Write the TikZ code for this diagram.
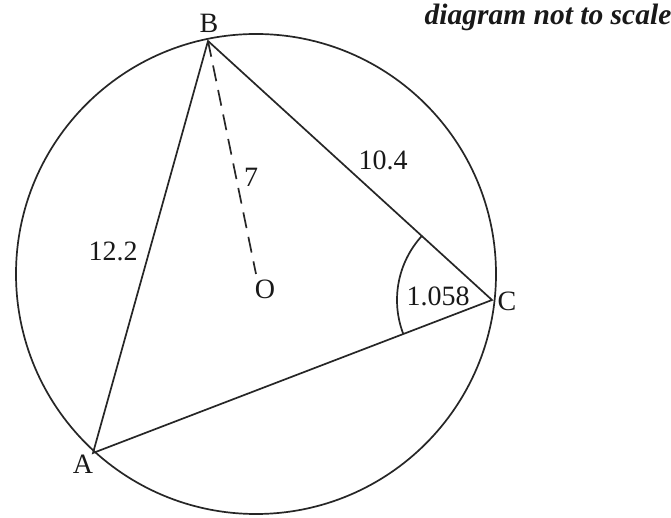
\documentclass[tikz,border=0pt]{standalone}
\usepackage{fontspec}
\setmainfont{Liberation Serif}
\usetikzlibrary{angles,calc}
\begin{document}
\begin{tikzpicture}[x=1pt,y=1pt,
  edge/.style={line width=1.7pt,black!85},
  lbl/.style={inner sep=0pt,font=\fontsize{28}{33}\selectfont,text=black!90}]
\useasboundingbox (0,0) rectangle (671,518);
\fill[white] (0,0) rectangle (671,518);
\coordinate (O) at (256,244);
\coordinate (B) at (208,477);
\coordinate (C) at (492,218);
\coordinate (A) at (93,65);
\draw[edge] (O) circle (240);
\draw[edge] (A) -- (B) -- (C) -- cycle;
\draw[edge,dash pattern=on 16pt off 9pt] (B) -- (O);
\pic[draw,edge,angle radius=95pt] {angle = B--C--A};
\node[lbl] (lB) at (209,495) {B};
\node[lbl] (lC) at (507,217) {C};
\node[lbl] (lA) at (83,54) {A};
\node[lbl] (lO) at (265,229) {O};
\node[lbl] (l122) at (113,267) {12.2};
\node[lbl] (l104) at (383,358) {10.4};
\node[lbl] (l7) at (251,341) {7};
\node[lbl] (lang) at (438,222) {1.058};
\node[lbl,font=\fontsize{29.5}{34}\selectfont\bfseries\itshape] (note) at (548,501) {diagram not to scale};
\end{tikzpicture}
\end{document}
